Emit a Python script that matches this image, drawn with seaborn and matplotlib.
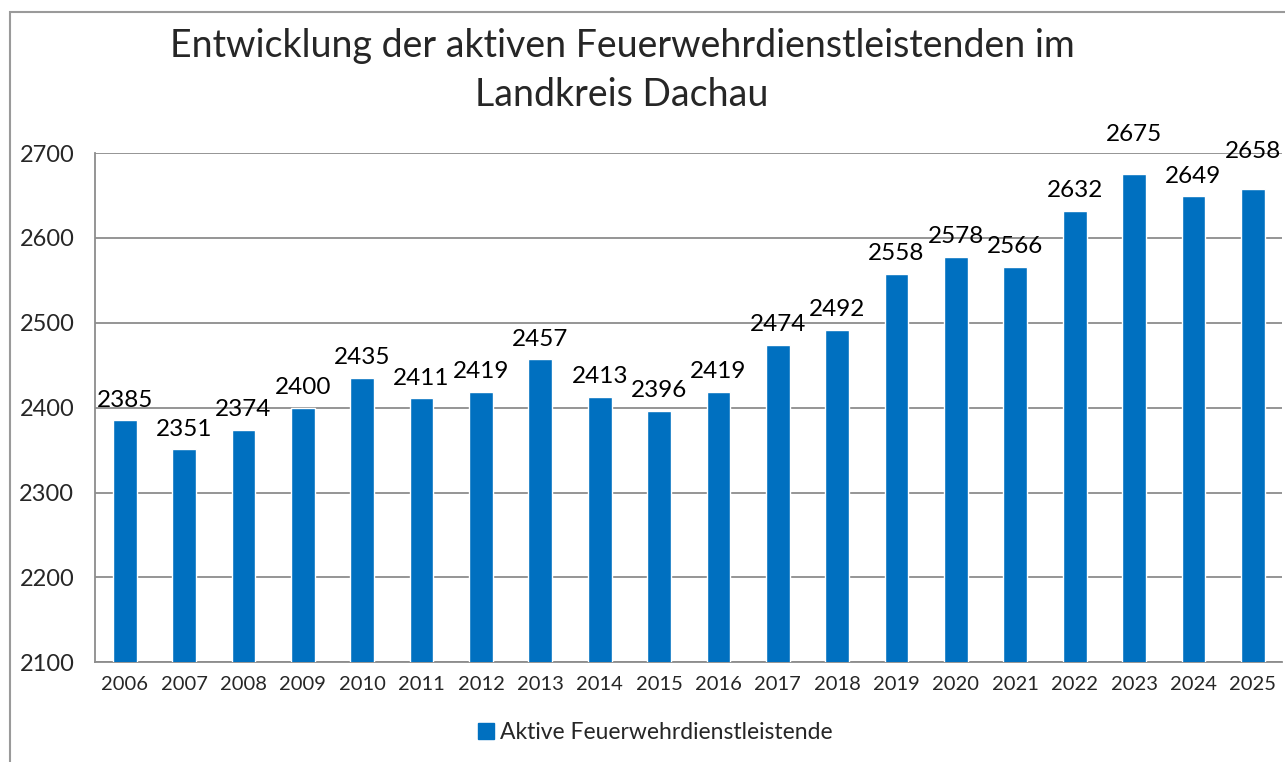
import numpy as np
import pandas as pd
import matplotlib
matplotlib.use("Agg")
import matplotlib.pyplot as plt
import seaborn as sns
from matplotlib.patches import Rectangle

# Daten
jahre = [str(j) for j in range(2006, 2026)]
aktive = [2385, 2351, 2374, 2400, 2435, 2411, 2419, 2457, 2413, 2396,
          2419, 2474, 2492, 2558, 2578, 2566, 2632, 2675, 2649, 2658]
serie = "Aktive Feuerwehrdienstleistende"
titel = "Entwicklung der aktiven Feuerwehrdienstleistenden im\nLandkreis Dachau"

df = pd.DataFrame({"Jahr": jahre, "Wert": aktive})

sns.set_style("white")
plt.rcParams["font.family"] = ["Lato", "DejaVu Sans"]

blau = "#0070C0"
grau = "#8c8c8c"

fig = plt.figure(figsize=(12.85, 7.62), dpi=100)
ax = fig.add_axes([0.074, 0.131, 0.924, 0.668])

sns.barplot(data=df, x="Jahr", y="Wert", color=blau, width=0.4,
            saturation=1, ax=ax, zorder=3)

ax.set_ylim(2100, 2700)
ax.set_xlim(-0.5, len(jahre) - 0.5)
ax.set_yticks(np.arange(2100, 2701, 100))
ax.yaxis.grid(True, color=grau, linewidth=1.3, zorder=0)
ax.set_xlabel("")
ax.set_ylabel("")

for s in ["top", "right"]:
    ax.spines[s].set_visible(False)
for s in ["left", "bottom"]:
    ax.spines[s].set_color(grau)
    ax.spines[s].set_linewidth(1.3)

# Striche zwischen den Kategorien
ax.set_xticks(np.arange(-0.5, len(jahre), 1), minor=True)
ax.tick_params(axis="x", which="major", length=0, labelsize=14.5, pad=10)
ax.tick_params(axis="x", which="minor", length=6, color=grau, width=1.3)
ax.tick_params(axis="y", length=6, color=grau, width=1.3, labelsize=17, pad=9)

# Datenbeschriftungen
versatz = [7] * len(jahre)
versatz[17] = 21
versatz[19] = 19
for i, (v, d) in enumerate(zip(aktive, versatz)):
    ax.annotate(str(v), (i, v), xytext=(0, d), textcoords="offset points",
                ha="center", va="bottom", fontsize=17.5, color="black")

fig.suptitle(titel, x=0.484, y=0.963, fontsize=27, linespacing=1.45, va="top")

handle = Rectangle((0, 0), 1, 1, color=blau)
fig.legend([handle], [serie], loc="center", bbox_to_anchor=(0.51, 0.039),
           frameon=False, fontsize=16.5, handlelength=0.7, handleheight=0.7,
           handletextpad=0.3)

# Rahmen
fig.add_artist(Rectangle((10 / 1285, -0.05), 1.1, 1 - 12 / 762 + 0.05,
                         transform=fig.transFigure, fill=False,
                         edgecolor="#9a9a9a", linewidth=1.5))

fig.savefig("out.png", dpi=100)
